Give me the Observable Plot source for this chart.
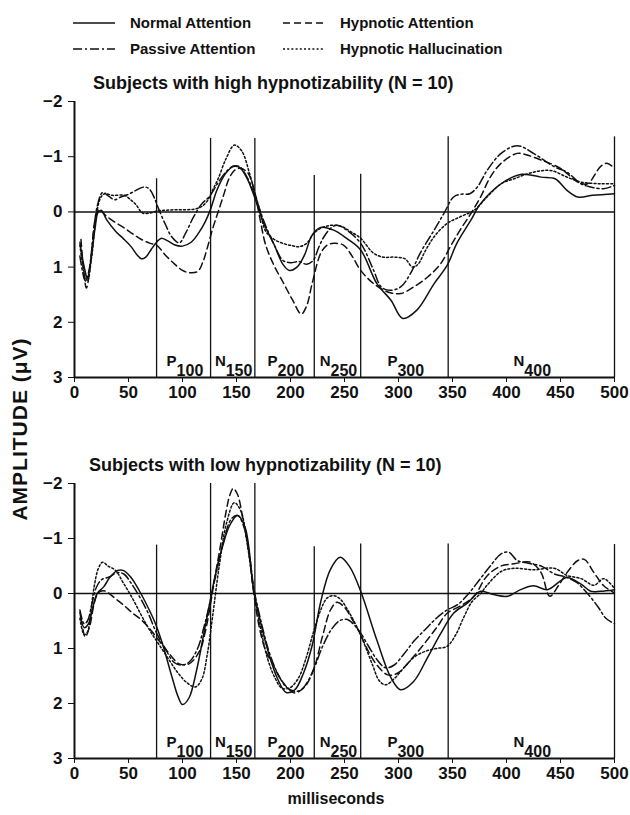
<!DOCTYPE html>
<html><head><meta charset="utf-8">
<script src="https://cdn.jsdelivr.net/npm/d3@7"></script>
<script src="https://cdn.jsdelivr.net/npm/@observablehq/plot@0.6"></script>
<style>
body{margin:0;background:#fff;}
#page{position:relative;width:630px;height:815px;overflow:hidden;background:#fff;font-family:"Liberation Sans",Arial,sans-serif;font-weight:bold;color:#111;}
.abs{position:absolute;white-space:nowrap;}
.leg{font-size:15px;line-height:18px;}
.ttl{font-size:18px;line-height:22px;}
</style></head>
<body><div id="page"></div>
<script>
// ---------- data ----------
const legendNames = ["Normal Attention","Passive Attention","Hypnotic Attention","Hypnotic Hallucination"];
const dashes = [null, "9,3,2,3", "7,4", "2,2.2"];
const xTicks = [0,50,100,150,200,250,300,350,400,450,500];
const yTicks = [-2,-1,0,1,2,3];
const boundaries = [76,126,167,222,265,346,500];
const highTops = [-0.6,-1.33,-1.33,-0.66,-0.68,-1.36,-1.36];
const lowTops = [-0.88,-2,-2,-0.85,-0.9,-0.9,-0.89];
const compLetters = ["P","N","P","N","P","N"];
const compNumbers = ["100","150","200","250","300","400"];
const panelTitles = ["Subjects with high hypnotizability (N = 10)","Subjects with low hypnotizability (N = 10)"];

const highNormal = [[5,0.55],[9,1.0],[12,1.2],[15,0.9],[19,0.3],[22,0.0],[25,-0.02],[30,0.15],[38,0.35],[45,0.48],[52,0.62],[58,0.78],[62,0.85],[66,0.82],[71,0.68],[76,0.55],[80,0.48],[86,0.52],[93,0.6],[100,0.62],[108,0.55],[115,0.38],[121,0.18],[126,-0.05],[132,-0.4],[140,-0.7],[147,-0.82],[153,-0.8],[160,-0.6],[167,-0.25],[175,0.2],[185,0.6],[193,0.95],[199,1.06],[206,1.0],[213,0.78],[220,0.42],[228,0.28],[240,0.33],[252,0.48],[265,0.69],[280,1.3],[293,1.6],[304,1.93],[317,1.78],[333,1.3],[345,0.97],[354,0.57],[367,0.15],[376,-0.15],[395,-0.51],[414,-0.68],[432,-0.63],[445,-0.6],[456,-0.39],[466,-0.27],[480,-0.3],[500,-0.33]];
const highPassive = [[5,0.8],[10,1.25],[13,1.1],[17,0.5],[21,-0.1],[26,-0.35],[32,-0.28],[37,-0.22],[43,-0.27],[49,-0.31],[56,-0.38],[62,-0.44],[66,-0.45],[70,-0.4],[74,-0.25],[78,-0.05],[84,0.22],[90,0.45],[97,0.56],[103,0.38],[110,0.1],[118,-0.15],[125,-0.28],[132,-0.5],[140,-0.72],[147,-0.83],[153,-0.82],[160,-0.62],[167,-0.3],[175,0.15],[185,0.6],[193,0.88],[200,0.92],[208,0.9],[215,0.95],[221,0.88],[226,0.65],[231,0.45],[237,0.3],[243,0.24],[252,0.33],[265,0.57],[277,1.06],[284,1.36],[292,1.42],[302,1.36],[311,1.12],[320,0.75],[333,0.33],[342,0.03],[351,-0.27],[358,-0.32],[366,-0.33],[373,-0.45],[382,-0.75],[395,-1.06],[410,-1.2],[425,-1.06],[444,-0.82],[456,-0.72],[469,-0.51],[478,-0.45],[490,-0.42],[500,-0.48]];
const highHypAtt = [[6,0.5],[11,1.38],[15,0.9],[19,0.15],[23,-0.05],[28,0.05],[37,0.18],[46,0.29],[54,0.4],[62,0.5],[70,0.57],[76,0.6],[84,0.78],[93,0.95],[100,1.06],[106,1.1],[114,1.08],[119,0.9],[123,0.65],[128,0.3],[133,0.0],[138,-0.3],[143,-0.6],[148,-0.75],[153,-0.79],[160,-0.72],[166,-0.42],[172,0.15],[177,0.6],[185,0.98],[193,1.27],[202,1.6],[210,1.85],[215,1.7],[220,1.3],[228,0.75],[234,0.6],[240,0.57],[249,0.6],[257,0.8],[265,1.06],[277,1.3],[290,1.45],[302,1.48],[314,1.36],[327,1.18],[339,0.94],[348,0.63],[357,0.33],[367,0.03],[376,-0.27],[385,-0.63],[395,-0.88],[410,-1.06],[419,-1.03],[432,-0.94],[450,-0.79],[466,-0.54],[475,-0.51],[487,-0.82],[493,-0.88],[500,-0.79]];
const highHypHall = [[5,0.6],[9,1.1],[12,1.25],[16,0.8],[20,0.1],[24,-0.25],[28,-0.33],[35,-0.3],[46,-0.3],[52,-0.22],[57,-0.13],[63,0.02],[70,0.02],[77,-0.02],[85,-0.03],[93,-0.04],[102,-0.04],[111,-0.05],[118,-0.1],[123,-0.2],[128,-0.4],[133,-0.6],[140,-0.95],[148,-1.21],[155,-1.1],[162,-0.7],[167,-0.35],[172,0.0],[177,0.35],[185,0.5],[193,0.57],[201,0.61],[208,0.63],[215,0.57],[222,0.38],[230,0.28],[240,0.24],[248,0.27],[256,0.36],[265,0.48],[277,0.75],[286,0.82],[296,0.82],[306,0.85],[313,1.0],[318,0.95],[325,0.7],[333,0.45],[345,0.21],[357,0.09],[370,-0.03],[382,-0.27],[395,-0.51],[407,-0.6],[425,-0.72],[441,-0.75],[456,-0.63],[469,-0.54],[487,-0.51],[500,-0.51]];

const lowNormal = [[5,0.35],[9,0.62],[13,0.55],[17,0.25],[21,0.0],[27,-0.12],[33,-0.3],[40,-0.42],[45,-0.42],[52,-0.3],[60,-0.05],[68,0.25],[75,0.55],[82,0.95],[90,1.5],[96,1.88],[100,2.02],[106,1.9],[113,1.4],[120,0.7],[125,0.2],[130,-0.3],[137,-0.85],[144,-1.25],[151,-1.42],[158,-1.2],[166,-0.05],[172,0.5],[180,1.1],[188,1.55],[196,1.8],[204,1.75],[212,1.45],[220,0.95],[228,0.15],[237,-0.44],[246,-0.66],[255,-0.48],[265,-0.04],[280,0.85],[293,1.53],[302,1.75],[314,1.6],[327,1.16],[339,0.73],[351,0.36],[364,0.17],[376,-0.04],[388,0.02],[401,0.05],[413,-0.07],[425,-0.14],[438,-0.07],[450,-0.23],[456,-0.29],[469,-0.17],[478,-0.04],[487,-0.04],[500,-0.07]];
const lowPassive = [[5,0.3],[9,0.55],[12,0.5],[16,0.2],[20,-0.1],[25,-0.25],[32,-0.3],[40,-0.38],[46,-0.35],[52,-0.2],[60,0.05],[68,0.35],[76,0.72],[84,1.0],[92,1.25],[99,1.3],[106,1.25],[114,1.0],[120,0.6],[125,0.2],[131,-0.35],[138,-0.95],[145,-1.35],[151,-1.42],[157,-1.2],[162,-0.7],[166,-0.1],[172,0.45],[180,1.05],[188,1.45],[196,1.7],[204,1.78],[210,1.75],[216,1.6],[222,1.35],[230,0.95],[238,0.65],[245,0.5],[252,0.47],[258,0.55],[265,0.72],[272,0.95],[280,1.2],[288,1.35],[296,1.3],[305,1.1],[315,0.85],[325,0.65],[335,0.45],[345,0.3],[355,0.2],[365,0.0],[375,-0.25],[385,-0.5],[395,-0.72],[402,-0.75],[410,-0.6],[420,-0.55],[432,-0.5],[445,-0.35],[455,-0.3],[465,-0.2],[475,0.0],[485,0.25],[492,0.45],[500,0.55]];
const lowHypAtt = [[6,0.45],[10,0.79],[14,0.6],[18,0.2],[21,0.02],[24,-0.04],[29,-0.04],[34,0.03],[39,0.11],[46,0.22],[54,0.36],[62,0.48],[70,0.65],[76,0.8],[82,0.95],[88,1.1],[97,1.28],[106,1.28],[116,1.04],[121,0.7],[125,0.3],[130,-0.3],[135,-0.85],[140,-1.45],[144,-1.8],[147,-1.91],[151,-1.8],[156,-1.35],[161,-0.8],[166,0.0],[171,0.6],[177,1.04],[184,1.3],[190,1.53],[199,1.75],[204,1.81],[210,1.75],[215,1.65],[222,1.35],[230,0.75],[237,0.3],[243,0.16],[250,0.25],[258,0.5],[265,0.75],[272,1.05],[280,1.3],[290,1.48],[299,1.45],[312,1.19],[324,0.91],[336,0.6],[345,0.36],[357,0.23],[370,0.05],[382,-0.32],[395,-0.5],[407,-0.54],[422,-0.57],[432,-0.38],[440,0.05],[448,-0.14],[456,-0.38],[466,-0.6],[472,-0.62],[481,-0.38],[490,-0.14],[500,-0.01]];
const lowHypHall = [[5,0.45],[9,0.75],[12,0.7],[15,0.35],[18,-0.1],[22,-0.45],[26,-0.57],[31,-0.5],[38,-0.42],[45,-0.2],[54,0.1],[62,0.4],[70,0.68],[78,0.92],[88,1.22],[96,1.45],[104,1.62],[112,1.7],[118,1.55],[123,1.1],[128,0.4],[134,-0.5],[141,-1.3],[148,-1.65],[154,-1.5],[160,-0.9],[166,-0.05],[172,0.6],[179,1.2],[186,1.55],[192,1.72],[199,1.72],[207,1.55],[214,1.2],[221,0.72],[228,0.3],[234,0.08],[240,0.04],[246,0.1],[253,0.3],[260,0.55],[268,0.9],[276,1.3],[282,1.58],[288,1.66],[296,1.55],[305,1.35],[315,1.15],[325,1.05],[335,1.0],[345,0.96],[353,0.75],[360,0.45],[368,0.15],[376,0.0],[382,-0.15],[395,-0.4],[407,-0.46],[425,-0.43],[444,-0.46],[456,-0.33],[469,-0.27],[481,-0.15],[490,-0.27],[500,-0.09]];

// ---------- build ----------
const FONT = '"Liberation Sans", Arial, sans-serif';
const INK = "#111";
const page = document.getElementById("page");

function addDiv(cls, text, left, top, extra) {
  const d = document.createElement("div");
  d.className = "abs " + cls;
  d.textContent = text;
  d.style.left = left + "px";
  d.style.top = top + "px";
  if (extra) Object.assign(d.style, extra);
  page.appendChild(d);
  return d;
}

// legend
const legPos = [[73,130,14],[73,130,40],[283,340,14],[283,340,40]];
legendNames.forEach((name, i) => {
  const [sx, tx, ty] = legPos[i];
  const ns = "http://www.w3.org/2000/svg";
  const svg = document.createElementNS(ns, "svg");
  svg.setAttribute("width", 42); svg.setAttribute("height", 18);
  svg.style.position = "absolute"; svg.style.left = sx + "px"; svg.style.top = ty + "px";
  const ln = document.createElementNS(ns, "line");
  ln.setAttribute("x1", 0); ln.setAttribute("x2", 42); ln.setAttribute("y1", 9); ln.setAttribute("y2", 9);
  ln.setAttribute("stroke", INK); ln.setAttribute("stroke-width", 1.5);
  if (dashes[i]) ln.setAttribute("stroke-dasharray", dashes[i]);
  svg.appendChild(ln);
  page.appendChild(svg);
  addDiv("leg", name, tx, ty);
});

addDiv("ttl", panelTitles[0], 93, 72);
addDiv("ttl", panelTitles[1], 89, 454);

addDiv("", "AMPLITUDE (\u03bcV)", 20, 429, {fontSize:"21px", letterSpacing:"1px", transform:"translate(-50%,-50%) rotate(-90deg)", lineHeight:"24px"});
addDiv("", "milliseconds", 336, 790, {fontSize:"16px", transform:"translateX(-50%)"});

function toRows(arr, k) { return arr.map(([ms, v]) => ({ms, v, k})); }

function panel(series, tops, top, height, mt, mb) {
  const bnd = boundaries.map((b, i) => ({b, t: tops[i]}));
  const labels = compLetters.map((l, i) => ({l, n: compNumbers[i], mid: (boundaries[i] + boundaries[i+1]) / 2}));
  const marks = [
    Plot.ruleY([0], {stroke: INK, strokeWidth: 1.5}),
    Plot.ruleX([0], {y1: yTicks[0], y2: yTicks[yTicks.length-1], stroke: INK, strokeWidth: 2}),
    Plot.ruleY([yTicks[yTicks.length-1]], {stroke: INK, strokeWidth: 2}),
    Plot.ruleX(bnd, {x: "b", y1: yTicks[yTicks.length-1], y2: "t", stroke: INK, strokeWidth: 1.3}),
    ...series.map((s, i) => Plot.line(toRows(s, i), {x: "ms", y: "v", curve: "catmull-rom", stroke: INK, strokeWidth: 1.5, strokeDasharray: dashes[i] || undefined})),
    Plot.text(labels, {x: "mid", text: "l", frameAnchor: "bottom", textAnchor: "end", lineAnchor: "bottom", dx: -7, dy: -12, fontSize: 15, fontWeight: "bold", fill: INK}),
    Plot.text(labels, {x: "mid", text: "n", frameAnchor: "bottom", textAnchor: "start", lineAnchor: "bottom", dx: -7, dy: -2, fontSize: 16, fontWeight: "bold", fill: INK})
  ];
  const chart = Plot.plot({
    width: 630, height, marginLeft: 74, marginRight: 16, marginTop: mt, marginBottom: mb,
    x: {domain: [0, 500], ticks: xTicks, tickSize: 5, tickPadding: 3, label: null, tickFormat: d => String(d)},
    y: {domain: [3, -2], ticks: yTicks, tickSize: 6, tickPadding: 6, label: null, tickFormat: d => d < 0 ? "\u2212" + (-d) : String(d)},
    style: {fontFamily: FONT, fontSize: "17px", fontWeight: "bold", color: INK, background: "transparent", overflow: "visible"},
    marks
  });
  chart.style.position = "absolute";
  chart.style.left = "0px";
  chart.style.top = top + "px";
  page.appendChild(chart);
}

panel([highNormal, highPassive, highHypAtt, highHypHall], highTops, 90, 320, 11, 33);
panel([lowNormal, lowPassive, lowHypAtt, lowHypHall], lowTops, 472, 310, 11, 24);
</script>
</body></html>
